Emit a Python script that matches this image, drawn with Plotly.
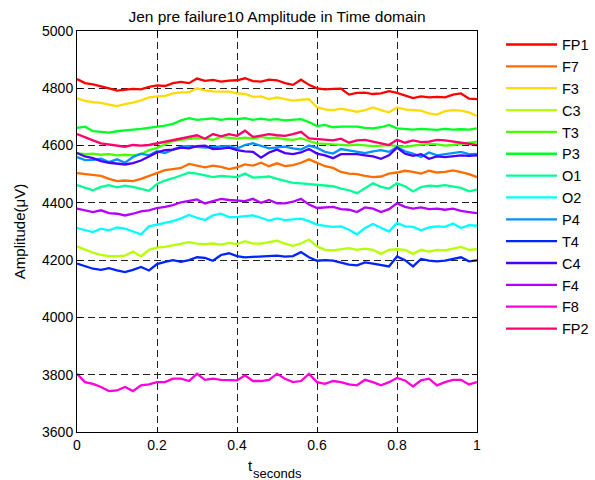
import numpy as np
import plotly.graph_objects as go

# time samples (seconds)
t = np.linspace(0, 1, 51)

channel_names = ["FP1", "F7", "F3", "C3", "T3", "P3", "O1", "O2", "P4", "T4", "C4", "F4", "F8", "FP2"]

FP1 = [4832, 4818, 4814, 4808, 4800, 4792, 4795, 4798, 4796, 4805,
       4810, 4808, 4818, 4822, 4818, 4834, 4826, 4829, 4823, 4827,
       4828, 4835, 4825, 4823, 4830, 4828, 4818, 4812, 4830, 4812,
       4800, 4796, 4798, 4799, 4778, 4784, 4785, 4780, 4782, 4790,
       4784, 4775, 4766, 4772, 4768, 4770, 4768, 4778, 4782, 4764,
       4762]
F7 = [4504, 4500, 4496, 4494, 4484, 4476, 4478, 4476, 4484, 4494,
      4506, 4514, 4518, 4522, 4536, 4530, 4524, 4530, 4526, 4518,
      4524, 4534, 4530, 4540, 4528, 4538, 4528, 4532, 4540, 4552,
      4540, 4528, 4522, 4508, 4502, 4500, 4494, 4490, 4492, 4502,
      4506, 4512, 4508, 4502, 4512, 4506, 4508, 4513, 4507, 4500,
      4490]
F3 = [4765, 4756, 4752, 4749, 4743, 4738, 4745, 4750, 4758, 4768,
      4772, 4773, 4782, 4786, 4786, 4800, 4793, 4789, 4788, 4788,
      4782, 4780, 4770, 4772, 4762, 4768, 4762, 4757, 4760, 4762,
      4734, 4726, 4724, 4729, 4724, 4718, 4724, 4733, 4724, 4716,
      4733, 4726, 4724, 4722, 4712, 4708, 4720, 4724, 4722, 4716,
      4703]
C3 = [4248, 4236, 4226, 4218, 4214, 4214, 4216, 4230, 4213, 4236,
      4244, 4246, 4251, 4258, 4263, 4258, 4256, 4258, 4254, 4260,
      4256, 4266, 4258, 4258, 4262, 4268, 4258, 4250, 4258, 4272,
      4248, 4236, 4234, 4238, 4242, 4236, 4240, 4236, 4222, 4236,
      4238, 4236, 4222, 4236, 4230, 4236, 4234, 4240, 4246, 4236,
      4238]
T3 = [4574, 4570, 4572, 4568, 4570, 4566, 4568, 4566, 4570, 4584,
      4592, 4605, 4616, 4620, 4622, 4626, 4624, 4620, 4630, 4626,
      4624, 4628, 4624, 4630, 4626, 4628, 4622, 4620, 4626, 4616,
      4608, 4606, 4604, 4602, 4601, 4603, 4600, 4598, 4600, 4602,
      4598, 4596, 4600, 4602, 4606, 4604, 4600, 4602, 4606, 4610,
      4614]
P3 = [4662, 4666, 4650, 4648, 4645, 4650, 4654, 4656, 4658, 4662,
      4665, 4670, 4676, 4688, 4696, 4690, 4692, 4695, 4690, 4694,
      4692, 4696, 4690, 4694, 4690, 4692, 4688, 4690, 4692, 4682,
      4668, 4672, 4664, 4666, 4665, 4666, 4662, 4660, 4664, 4672,
      4660, 4658, 4656, 4658, 4656, 4655, 4658, 4656, 4657, 4656,
      4660]
O1 = [4462, 4452, 4444, 4456, 4462, 4454, 4460, 4456, 4450, 4442,
      4466, 4478, 4486, 4496, 4505, 4502, 4496, 4490, 4494, 4492,
      4490, 4502, 4488, 4490, 4492, 4484, 4476, 4470, 4468, 4466,
      4462, 4460, 4458, 4450, 4444, 4434, 4450, 4468, 4456, 4450,
      4468, 4458, 4440, 4455, 4460, 4458, 4462, 4456, 4452, 4440,
      4446]
O2 = [4312, 4306, 4298, 4310, 4304, 4314, 4310, 4300, 4290, 4318,
      4324, 4330, 4336, 4346, 4358, 4348, 4340, 4356, 4362, 4350,
      4350, 4354, 4356, 4348, 4338, 4346, 4340, 4342, 4345, 4336,
      4324, 4320, 4316, 4318, 4306, 4290, 4312, 4326, 4314, 4300,
      4330, 4318, 4316, 4304, 4314, 4318, 4316, 4328, 4312, 4322,
      4320]
P4 = [4560, 4549, 4550, 4554, 4542, 4552, 4540, 4560, 4572, 4566,
      4580, 4574, 4586, 4596, 4598, 4595, 4593, 4595, 4596, 4598,
      4590, 4602, 4608, 4598, 4590, 4594, 4596, 4590, 4586, 4600,
      4592, 4578, 4572, 4588, 4584, 4578, 4574, 4580, 4584, 4578,
      4595, 4580, 4572, 4560, 4576, 4566, 4570, 4574, 4578, 4570,
      4571]
T4 = [4188, 4178, 4170, 4166, 4172, 4164, 4158, 4166, 4176, 4164,
      4186, 4194, 4200, 4194, 4200, 4210, 4208, 4198, 4218, 4224,
      4214, 4210, 4212, 4212, 4214, 4216, 4212, 4214, 4228, 4210,
      4198, 4200, 4198, 4192, 4184, 4182, 4192, 4188, 4184, 4178,
      4213, 4200, 4178, 4204, 4198, 4196, 4198, 4204, 4210, 4196,
      4199]
C4 = [4574, 4562, 4556, 4546, 4540, 4537, 4534, 4539, 4548, 4562,
      4576, 4584, 4586, 4593, 4590, 4598, 4600, 4588, 4589, 4593,
      4584, 4580, 4578, 4558, 4576, 4586, 4574, 4570, 4576, 4588,
      4572, 4566, 4556, 4570, 4570, 4570, 4566, 4562, 4554, 4566,
      4593, 4572, 4564, 4570, 4554, 4562, 4560, 4562, 4566, 4564,
      4566]
F4 = [4380, 4374, 4368, 4374, 4364, 4362, 4356, 4362, 4370, 4374,
      4382, 4386, 4392, 4402, 4408, 4412, 4398, 4406, 4414, 4410,
      4408, 4406, 4414, 4400, 4410, 4398, 4398, 4404, 4414, 4394,
      4382, 4384, 4386, 4378, 4376, 4368, 4384, 4380, 4368, 4378,
      4398, 4386, 4380, 4384, 4378, 4380, 4376, 4380, 4372, 4368,
      4364]
F8 = [3803, 3774, 3768, 3757, 3743, 3745, 3757, 3743, 3763, 3766,
      3774, 3774, 3786, 3786, 3778, 3803, 3782, 3786, 3782, 3782,
      3780, 3798, 3778, 3778, 3782, 3803, 3786, 3774, 3778, 3803,
      3774, 3768, 3778, 3774, 3766, 3763, 3782, 3774, 3763, 3774,
      3789, 3780, 3759, 3780, 3786, 3763, 3774, 3782, 3782, 3766,
      3774]
FP2 = [4640, 4628, 4618, 4608, 4604, 4600, 4596, 4602, 4600, 4602,
       4608, 4614, 4618, 4626, 4632, 4636, 4624, 4640, 4632, 4640,
       4634, 4652, 4630, 4636, 4640, 4636, 4634, 4640, 4648, 4625,
       4622, 4620, 4618, 4624, 4610, 4618, 4620, 4614, 4608, 4602,
       4620, 4610, 4618, 4612, 4614, 4620, 4618, 4614, 4612, 4606,
       4602]

series = [FP1, F7, F3, C3, T3, P3, O1, O2, P4, T4, C4, F4, F8, FP2]

colors = ["#FF0000", "#FF6D00", "#FFDB00", "#B6FF00", "#49FF00", "#00FF24", "#00FF92",
          "#00FFFF", "#0092FF", "#0024FF", "#4900FF", "#B600FF", "#FF00DB", "#FF006D"]

x_ticks = [0, 0.2, 0.4, 0.6, 0.8, 1]
x_ticktext = ["0", "0.2", "0.4", "0.6", "0.8", "1"]
y_ticks = [3600, 3800, 4000, 4200, 4400, 4600, 4800, 5000]

FONT = "Liberation Sans, Arial, Helvetica, sans-serif"

fig = go.Figure()
for name, vals, col in zip(channel_names, series, colors):
    fig.add_trace(go.Scatter(x=t, y=vals, mode="lines", name=name,
                             line=dict(color=col, width=2.3)))

fig.update_layout(
    width=595, height=480,
    margin=dict(l=77, r=118, t=31, b=48, pad=0, autoexpand=False),
    paper_bgcolor="white", plot_bgcolor="white",
    font=dict(family=FONT, size=14, color="black"),
    title=dict(text="Jen pre failure10 Amplitude in Time domain",
               x=0.5, xref="paper", xanchor="center",
               y=1 - 17 / 480, yref="container", yanchor="middle",
               font=dict(size=15.5)),
    legend=dict(x=1.06, xanchor="left", xref="paper",
                y=0.612, yanchor="middle", yref="paper",
                font=dict(size=14.5), bgcolor="rgba(0,0,0,0)",
                borderwidth=0, itemwidth=51),
    showlegend=True,
    annotations=[
        # x-axis title: "t" with subscript "seconds"
        dict(text="t", xref="paper", yref="paper", x=(250 - 77) / 400, y=(431 - 464) / 400,
             xanchor="center", yanchor="middle", showarrow=False, font=dict(size=15)),
        dict(text="seconds", xref="paper", yref="paper", x=(251 - 77) / 400, y=(431 - 472) / 400,
             xanchor="left", yanchor="middle", showarrow=False, font=dict(size=13)),
    ],
)

fig.update_xaxes(range=[0, 1], tickvals=x_ticks, ticktext=x_ticktext,
                 ticks="inside", ticklen=5, tickcolor="black",
                 showline=True, linecolor="black", linewidth=1, mirror="ticks",
                 showgrid=True, gridcolor="#222222", gridwidth=1, griddash="7px,4px",
                 zeroline=False)
fig.update_yaxes(range=[3600, 5000], tickvals=y_ticks,
                 ticks="inside", ticklen=5, tickcolor="black",
                 showline=True, linecolor="black", linewidth=1, mirror="ticks",
                 showgrid=True, gridcolor="#222222", gridwidth=1, griddash="7px,4px",
                 zeroline=False,
                 title=dict(text="Amplitude(μV)", standoff=12, font=dict(size=15)))

fig.write_html("out.html", config={"displayModeBar": False},
               post_script="document.body.style.margin='0';")
